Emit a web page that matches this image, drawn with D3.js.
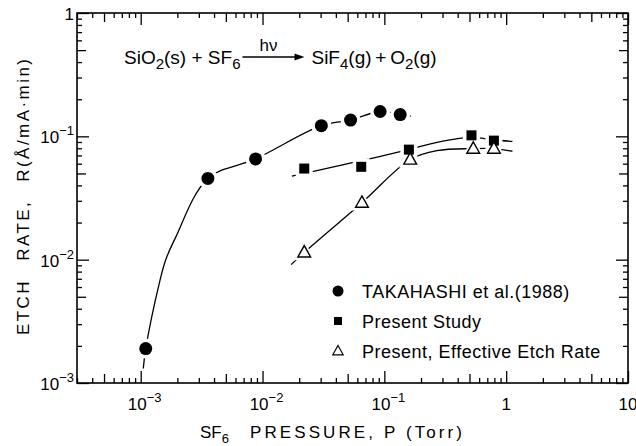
<!DOCTYPE html>
<html><head><meta charset="utf-8">
<script src="https://cdn.jsdelivr.net/npm/d3@7"></script>
<style>
body{margin:0;background:#fff}
svg{display:block}
text{font-family:"Liberation Sans",Arial,sans-serif;fill:#000}
</style>
</head><body>
<svg id="c" width="636" height="446"></svg>
<script>
// ---- data ----
const takahashiP = [1.10e-3, 3.56e-3, 8.77e-3, 0.0304, 0.0528, 0.0923, 0.135];
const takahashiR = [1.9e-3, 0.0456, 0.0656, 0.122, 0.1355, 0.159, 0.150];
const presentP = [0.022, 0.0646, 0.159, 0.519, 0.793];
const presentR = [0.0548, 0.0566, 0.078, 0.1019, 0.0923];
const effectiveP = [0.022, 0.0655, 0.163, 0.537, 0.793];
const effectiveR = [0.01146, 0.029, 0.0649, 0.0795, 0.0795];
// hand-drawn fit curves
const takahashiFitP = [1.05e-3, 1.10e-3, 1.44e-3, 1.6e-3, 1.93e-3, 3.56e-3, 8.77e-3, 0.0304, 0.0528, 0.0923, 0.135, 0.165];
const takahashiFitR = [1.31e-3, 1.9e-3, 6.8e-3, 9.9e-3, 0.0151, 0.0456, 0.0656, 0.122, 0.1355, 0.159, 0.150, 0.146];
const presentFitP = [0.01742, 0.159, 0.270, 0.519, 0.793, 1.125];
const presentFitR = [0.04757, 0.0781, 0.0894, 0.0982, 0.0934, 0.0911];
const effectiveFitP = [0.01718, 0.022, 0.0655, 0.163, 0.270, 0.537, 0.793, 1.125];
const effectiveFitR = [0.00912, 0.01146, 0.029, 0.0649, 0.0766, 0.0795, 0.0795, 0.0757];
const xTickLabels = [[1e-3,"10","-3"],[1e-2,"10","-2"],[1e-1,"10","-1"],[1,"1",""],[10,"10",""]];
const yTickLabels = [[1,"1",""],[1e-1,"10","-1"],[1e-2,"10","-2"],[1e-3,"10","-3"]];
const legendNames = ["TAKAHASHI et al.(1988)", "Present Study", "Present, Effective Etch Rate"];

// ---- layout ----
const L=77, R=628, T=13, B=383;
const x = d3.scaleLog().domain([3e-4,10]).range([L,R]);
const y = d3.scaleLog().domain([1e-3,1]).range([B,T]);
const svg = d3.select('#c');

function tickLen(v){
  const m = v/Math.pow(10, Math.floor(Math.log10(v)+1e-9));
  const r = Math.round(m);
  if (r===1) return 12; if (r===5) return 9; return 5;
}
const xTicks=[], yTicks=[];
for (let e=-4;e<=1;e++) for (let m=1;m<=9;m++){
  const v=m*Math.pow(10,e);
  if (v>=3e-4*0.999 && v<=10*1.001) xTicks.push(v);
  if (v>=1e-3*0.999 && v<=1*1.001) yTicks.push(v);
}
function styleAxis(g, attr, sign){
  g.select('.domain').remove();
  g.selectAll('.tick text').remove();
  g.selectAll('.tick line').attr(attr, d=>sign*tickLen(d)).attr('stroke','#000').attr('stroke-width',1.3);
}
svg.append('g').attr('transform',`translate(0,${B})`)
  .call(d3.axisBottom(x).tickValues(xTicks).tickFormat(''))
  .call(g=>styleAxis(g,'y2',-1));
svg.append('g').attr('transform',`translate(0,${T})`)
  .call(d3.axisTop(x).tickValues(xTicks).tickFormat(''))
  .call(g=>styleAxis(g,'y2',1));
svg.append('g').attr('transform',`translate(${L},0)`)
  .call(d3.axisLeft(y).tickValues(yTicks).tickFormat(''))
  .call(g=>styleAxis(g,'x2',1));
svg.append('g').attr('transform',`translate(${R},0)`)
  .call(d3.axisRight(y).tickValues(yTicks).tickFormat(''))
  .call(g=>styleAxis(g,'x2',-1));
svg.append('rect').attr('x',L).attr('y',T).attr('width',R-L).attr('height',B-T)
  .attr('fill','none').attr('stroke','#000').attr('stroke-width',1.6);

// tick labels
xTickLabels.forEach(([v,base,exp])=>{
  const t = svg.append('text').attr('x',x(v)+(exp?4:0)).attr('y',B+27).attr('text-anchor','middle').style('font-size','17px');
  t.append('tspan').text(base);
  if (exp) t.append('tspan').attr('dy',-8).style('font-size','13px').text(exp.replace('-','\u2212'));
});
yTickLabels.forEach(([v,base,exp])=>{
  const t = svg.append('text').attr('x',L-3).attr('y',y(v)+7).attr('text-anchor','end').style('font-size','17px');
  t.append('tspan').text(base);
  if (exp) t.append('tspan').attr('dy',-8).style('font-size','13px').text(exp.replace('-','\u2212'));
});

// axis titles
const xt = svg.append('text').attr('x',200).attr('y',438).style('font-size','17px');
xt.append('tspan').text('SF');
xt.append('tspan').attr('dy',5).style('font-size','13px').text('6');
xt.append('tspan').attr('dy',-5).attr('x',250).attr('textLength',212).attr('lengthAdjust','spacing').text('PRESSURE, P (Torr)');
svg.append('text').attr('transform','translate(29,197) rotate(-90)').attr('text-anchor','middle')
  .attr('textLength',276).attr('lengthAdjust','spacing')
  .style('font-size','17px').text('ETCH\u2002 RATE,\u2002 R(\u00C5/mA\u00B7min)');

// equation
const eq = svg.append('text').attr('x',124).attr('y',64).style('font-size','19px');
eq.append('tspan').text('SiO');
eq.append('tspan').attr('dy',5).style('font-size','15px').text('2');
eq.append('tspan').attr('dy',-5).text('(s) + SF');
eq.append('tspan').attr('dy',5).style('font-size','15px').text('6');
const eqEnd = 124 + eq.node().getComputedTextLength();
const aStart = eqEnd + 2, aEnd = aStart + 62;
svg.append('line').attr('x1',aStart).attr('x2',aEnd-4).attr('y1',57).attr('y2',57).attr('stroke','#000').attr('stroke-width',1.3);
svg.append('path').attr('d',`M${aEnd},57 L${aEnd-10},53.5 L${aEnd-10},60.5 Z`).attr('fill','#000');
svg.append('text').attr('x',aStart+26).attr('y',51).attr('text-anchor','middle').style('font-size','17px').text('h\u03BD');
const eq2 = svg.append('text').attr('x',aEnd+7).attr('y',64).style('font-size','19px');
eq2.append('tspan').text('SiF');
eq2.append('tspan').attr('dy',5).style('font-size','15px').text('4');
eq2.append('tspan').attr('dy',-5).text('(g)\u2009+\u2009O');
eq2.append('tspan').attr('dy',5).style('font-size','15px').text('2');
eq2.append('tspan').attr('dy',-5).text('(g)');

// curves
const line = d3.line().x(d=>x(d[0])).y(d=>y(d[1])).curve(d3.curveCatmullRom.alpha(0.5));
const curves = [[takahashiFitP,takahashiFitR],[presentFitP,presentFitR],[effectiveFitP,effectiveFitR]];
curves.forEach(([P,Rv])=>{
  svg.append('path').datum(P.map((p,i)=>[p,Rv[i]])).attr('d',line)
    .attr('fill','none').attr('stroke','#000').attr('stroke-width',1.3);
});

// markers
const tri = (cx,cy,s)=>`M${cx},${cy-s*0.62} L${cx+s*0.58},${cy+s*0.42} L${cx-s*0.58},${cy+s*0.42} Z`;
const tk = takahashiP.map((p,i)=>[p,takahashiR[i]]);
const ps = presentP.map((p,i)=>[p,presentR[i]]);
const ef = effectiveP.map((p,i)=>[p,effectiveR[i]]);
svg.selectAll('.h1').data(tk).enter().append('circle').attr('cx',d=>x(d[0])).attr('cy',d=>y(d[1])).attr('r',10).attr('fill','#fff');
svg.selectAll('.h2').data(ps).enter().append('rect').attr('x',d=>x(d[0])-8.5).attr('y',d=>y(d[1])-8.5).attr('width',17).attr('height',17).attr('fill','#fff');
svg.selectAll('.h3').data(ef).enter().append('path').attr('d',d=>tri(x(d[0]),y(d[1]),19)).attr('fill','#fff');
svg.selectAll('.m1').data(tk).enter().append('circle').attr('cx',d=>x(d[0])).attr('cy',d=>y(d[1])).attr('r',6.5).attr('fill','#000');
svg.selectAll('.m2').data(ps).enter().append('rect').attr('x',d=>x(d[0])-5).attr('y',d=>y(d[1])-5).attr('width',10).attr('height',10).attr('fill','#000');
svg.selectAll('.m3').data(ef).enter().append('path').attr('d',d=>tri(x(d[0]),y(d[1]),11)).attr('fill','#fff').attr('stroke','#000').attr('stroke-width',1.4);

// legend
const lx = 338, ly = [291, 321, 351];
svg.append('circle').attr('cx',lx).attr('cy',ly[0]).attr('r',5.5).attr('fill','#000');
svg.append('rect').attr('x',lx-4).attr('y',ly[1]-4).attr('width',8).attr('height',8).attr('fill','#000');
svg.append('path').attr('d',tri(lx,ly[2],9)).attr('fill','#fff').attr('stroke','#000').attr('stroke-width',1.2);
legendNames.forEach((n,i)=>{
  svg.append('text').attr('x',362).attr('y',ly[i]+7).style('font-size','18px')
    .style('letter-spacing','0.5px').text(n);
});
</script>
</body></html>
